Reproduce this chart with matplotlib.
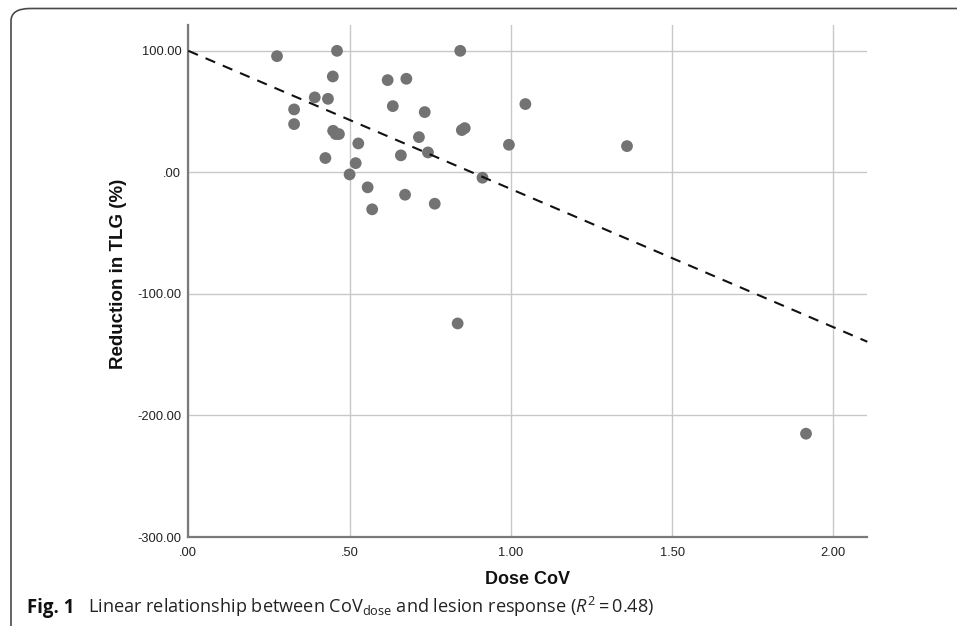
import matplotlib
matplotlib.use("Agg")
import matplotlib.pyplot as plt
from matplotlib.patches import FancyBboxPatch
import numpy as np

# ---- data ----
dose_cov = [0.275, 0.461, 0.448, 0.392, 0.433, 0.328, 0.328, 0.449, 0.457, 0.467,
            0.425, 0.527, 0.519, 0.500, 0.556, 0.570, 0.618, 0.676, 0.634, 0.733,
            0.715, 0.659, 0.743, 0.672, 0.764, 0.843, 0.848, 0.857, 0.912, 0.994,
            1.045, 1.360, 1.915, 0.835]
tlg_reduction = [95.6, 100.0, 78.9, 61.7, 60.5, 51.8, 39.7, 34.2, 31.5, 31.5,
                 11.8, 23.8, 7.6, -1.7, -12.3, -30.4, 75.9, 77.0, 54.5, 49.6,
                 29.0, 14.0, 16.4, -18.4, -25.8, 100.0, 34.8, 36.4, -4.4, 22.7,
                 56.2, 21.6, -215.0, -124.3]
fit_intercept = 100.0
fit_slope = -113.7
x_ticks = [0.0, 0.5, 1.0, 1.5, 2.0]
x_ticklabels = [".00", ".50", "1.00", "1.50", "2.00"]
y_ticks = [100, 0, -100, -200, -300]
y_ticklabels = ["100.00", ".00", "-100.00", "-200.00", "-300.00"]

plt.rcParams['mathtext.fontset'] = 'custom'
plt.rcParams['mathtext.rm'] = 'Open Sans'
plt.rcParams['mathtext.it'] = 'Open Sans:italic'

W, H = 957, 626
fig = plt.figure(figsize=(W / 100, H / 100), dpi=100)

# frame box
box = FancyBboxPatch((11 / W, 1 - 640 / H), (1100 - 11) / W, (640 - 8.5) / H,
                     boxstyle="round,pad=0,rounding_size=0.02",
                     transform=fig.transFigure, fill=False,
                     edgecolor="#4a4a4a", linewidth=1.2, zorder=0)
fig.patches.append(box)

left, right = 188.3, 867.3
top, bottom = 25.3, 537.0
ax = fig.add_axes([left / W, 1 - bottom / H, (right - left) / W, (bottom - top) / H])

xmin, xmax = 0.0, 2.105
ymin, ymax = -300, 121
ax.set_xlim(xmin, xmax)
ax.set_ylim(ymin, ymax)

ax.set_xticks(x_ticks)
ax.set_xticklabels(x_ticklabels)
ax.set_yticks(y_ticks)
ax.set_yticklabels(y_ticklabels)

ax.grid(True, color="#c8c8c8", linewidth=1.0, zorder=0)
ax.set_axisbelow(True)
for s in ["top", "right"]:
    ax.spines[s].set_visible(False)
for s in ["left", "bottom"]:
    ax.spines[s].set_color("#7a7a7a")
    ax.spines[s].set_linewidth(1.6)

ax.tick_params(axis="both", length=0, labelsize=9.25, labelcolor="#222222")
ax.tick_params(axis="x", pad=7)
ax.tick_params(axis="y", pad=5)
for lab in ax.get_xticklabels() + ax.get_yticklabels():
    lab.set_family("Liberation Sans")

ax.scatter(dose_cov, tlg_reduction, s=72, color="#737373", edgecolors="none", zorder=3)

xl = np.array([xmin, xmax])
ax.plot(xl, fit_intercept + fit_slope * xl, color="#111111", linewidth=1.5,
        linestyle=(0, (5, 4)), zorder=4, clip_on=False)

ax.set_xlabel("Dose CoV", family="Liberation Sans", fontweight="bold", fontsize=13, color="#111111")
ax.set_ylabel("Reduction in TLG (%)", family="Liberation Sans", fontweight="bold", fontsize=13.5, color="#111111")
ax.xaxis.set_label_coords(0.5, -0.0827)
ax.yaxis.set_label_coords(-0.1035, 0.514)
ax.xaxis.label.set_va("center")
ax.yaxis.label.set_va("center")

# caption
fig.text(27 / W, 13.3 / H, "Fig. 1", family="Open Sans", fontweight="bold",
         fontsize=13.4, va="baseline", ha="left", color="#111111")
fig.text(88 / W, 13.3 / H,
         r"Linear relationship between CoV$_{\mathrm{dose}}$ and lesion response ($R^{2}=0.48$)",
         family="Open Sans", fontsize=13.1, va="baseline", ha="left", color="#222222")

fig.savefig("out.png", dpi=100)
